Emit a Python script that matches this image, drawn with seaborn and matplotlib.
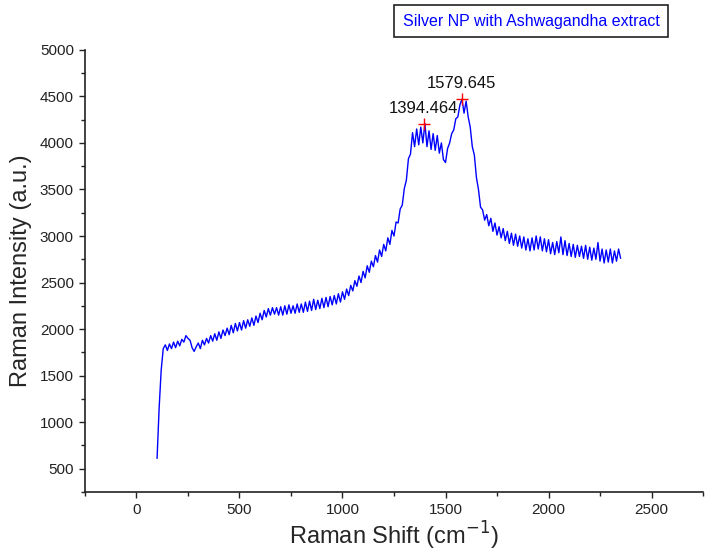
import numpy as np
import seaborn as sns
import matplotlib.pyplot as plt
from matplotlib.ticker import MultipleLocator

# Raman shift grid (cm-1), 10 cm-1 steps from 100 to 2350
shift = np.arange(100, 2351, 10)

# Intensity (a.u.)
intensity = [
    610, 1150, 1560, 1790, 1830, 1770, 1840, 1790, 1860, 1800,   # 100-190
    1870, 1820, 1890, 1860, 1930, 1900, 1880, 1800, 1760, 1810,  # 200-290
    1850, 1790, 1880, 1830, 1900, 1850, 1930, 1870, 1950, 1880,  # 300-390
    1970, 1900, 1990, 1930, 2010, 1940, 2040, 1960, 2060, 1980,  # 400-490
    2070, 1990, 2090, 2010, 2100, 2030, 2120, 2040, 2140, 2070,  # 500-590
    2170, 2100, 2200, 2130, 2220, 2150, 2230, 2160, 2230, 2150,  # 600-690
    2240, 2150, 2250, 2160, 2260, 2170, 2250, 2170, 2270, 2180,  # 700-790
    2270, 2180, 2290, 2190, 2300, 2200, 2320, 2210, 2310, 2220,  # 800-890
    2330, 2230, 2340, 2240, 2350, 2260, 2360, 2270, 2380, 2290,  # 900-990
    2400, 2320, 2430, 2360, 2470, 2410, 2520, 2460, 2570, 2500,  # 1000-1090
    2620, 2550, 2680, 2610, 2730, 2670, 2790, 2720, 2850, 2780,  # 1100-1190
    2910, 2840, 2980, 2910, 3060, 3000, 3150, 3140, 3290, 3330,  # 1200-1290
    3510, 3600, 3830, 3880, 4110, 3960, 4150, 3980, 4170, 4000,  # 1300-1390
    4210, 3960, 4130, 3930, 4100, 3920, 4080, 3890, 4000, 3820,  # 1400-1490
    3790, 3940, 4000, 4100, 4140, 4260, 4280, 4410, 4470, 4320,  # 1500-1590
    4450, 4280, 4170, 3960, 3870, 3630, 3500, 3310, 3280, 3170,  # 1600-1690
    3230, 3110, 3190, 3050, 3140, 3010, 3100, 2980, 3080, 2950,  # 1700-1790
    3050, 2920, 3030, 2900, 3020, 2890, 3000, 2870, 2990, 2850,  # 1800-1890
    2970, 2840, 2980, 2850, 3000, 2860, 2990, 2840, 2970, 2830,  # 1900-1990
    2960, 2810, 2930, 2800, 2940, 2820, 2990, 2800, 2950, 2790,  # 2000-2090
    2920, 2780, 2910, 2770, 2900, 2780, 2890, 2760, 2900, 2750,  # 2100-2190
    2880, 2740, 2870, 2750, 2930, 2730, 2860, 2710, 2850, 2720,  # 2200-2290
    2860, 2710, 2840, 2730, 2860, 2760,                          # 2300-2350
]

# Labelled peaks
peak_x = [1394.464, 1579.645]
peak_y = [4200, 4470]
peak_labels = ["1394.464", "1579.645"]

sns.set_style("ticks")
plt.rcParams['font.family'] = ['Liberation Sans', 'DejaVu Sans']

fig = plt.figure(figsize=(7.08, 5.54), dpi=100)
ax = fig.add_axes([0.120, 0.112, 0.873, 0.798])

sns.lineplot(x=shift, y=intensity, ax=ax, color="#0000ff", linewidth=1.0,
             errorbar=None, sort=False)
ax.plot(peak_x, peak_y, linestyle="none", marker="+", color="red",
        markersize=8, markeredgewidth=1.0)
for px, py, lab in zip(peak_x, peak_y, peak_labels):
    ax.annotate(lab, (px, py), xytext=(0, 6), textcoords="offset points",
                ha="center", va="bottom", fontsize=12, color="#111111")

ax.set_xlim(-250, 2750)
ax.set_ylim(250, 5000)
ax.xaxis.set_major_locator(MultipleLocator(500))
ax.xaxis.set_minor_locator(MultipleLocator(250))
ax.yaxis.set_major_locator(MultipleLocator(500))
ax.yaxis.set_minor_locator(MultipleLocator(250))
ax.set_yticks([500, 1000, 1500, 2000, 2500, 3000, 3500, 4000, 4500, 5000])

ax.tick_params(which="major", length=4.5, width=1.0, labelsize=11,
               colors="#222222", pad=3.5)
ax.tick_params(which="minor", length=3, width=1.0, colors="#222222")
for s in ["left", "bottom"]:
    ax.spines[s].set_linewidth(1.2)
    ax.spines[s].set_color("#222222")
sns.despine(ax=ax)

ax.set_xlabel("Raman Shift (cm$^{-1}$)", fontsize=17, labelpad=2)
ax.set_ylabel("Raman Intensity (a.u.)", fontsize=17, labelpad=6)

fig.text(0.75, 0.962, "Silver NP with Ashwagandha extract", ha="center",
         va="center", fontsize=11.5, color="#0000ff",
         bbox=dict(boxstyle="square,pad=0.55", facecolor="white",
                   edgecolor="#222222", linewidth=1.2))

fig.savefig("out.png", dpi=100)
